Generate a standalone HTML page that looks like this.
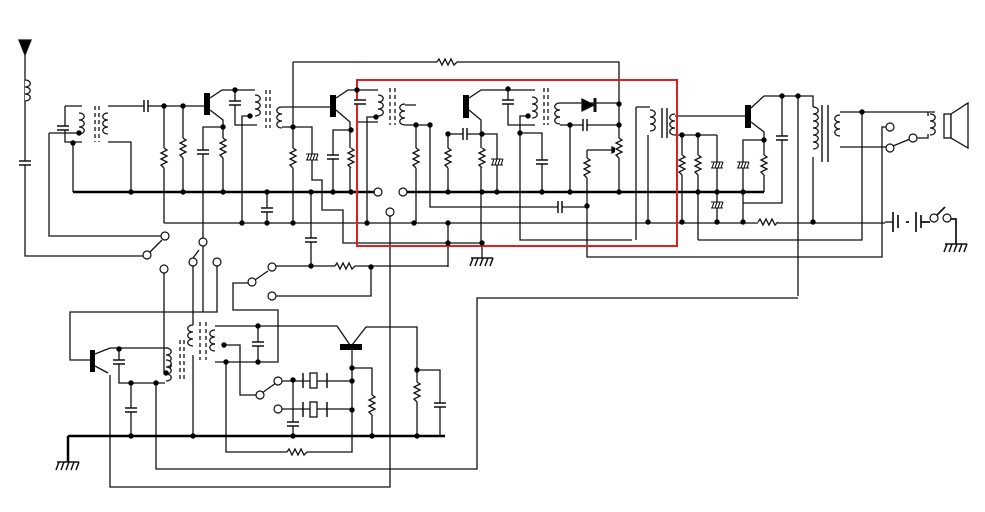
<!DOCTYPE html>
<html><head><meta charset="utf-8"><style>
html,body{margin:0;padding:0;background:#fff}
svg{display:block}
</style></head><body>
<svg width="985" height="512" viewBox="0 0 985 512" xmlns="http://www.w3.org/2000/svg">
<defs>
<g id="r"><rect x="-4" y="-10" width="8" height="20" fill="#fff"/><path d="M0,-10 l3,2 l-6,3 l6,3 l-6,3 l6,3 l-6,3 l3,3" fill="none" stroke="#111" stroke-width="1.3"/></g>
<g id="rh"><rect x="-10" y="-4" width="20" height="8" fill="#fff"/><path d="M-10,0 l2,-3 l3,6 l3,-6 l3,6 l3,-6 l3,6 l3,-3" fill="none" stroke="#111" stroke-width="1.3"/></g>
<g id="cv"><rect x="-6" y="-2" width="12" height="4" fill="#fff"/><path d="M-6,-2 h12 M-6,2 h12" stroke="#111" stroke-width="1.5"/></g>
<g id="ch"><rect x="-2" y="-6" width="4" height="12" fill="#fff"/><path d="M-2,-6 v12 M2,-6 v12" stroke="#111" stroke-width="1.5"/></g>
<g id="cz"><rect x="-6" y="-3" width="12" height="6" fill="#fff"/><path d="M-6,-3 h12 M-6,3 h12 M-3,-3 l-2,6 M0,-3 l-2,6 M3,-3 l-2,6 M6,-3 l-2,6" stroke="#111" stroke-width="1.1"/></g>
<g id="coil"><path d="M0,0 c7,0 7,7 0,7 c7,0 7,7 0,7 c7,0 7,7 0,7" fill="#fff" stroke="#111" stroke-width="1.3"/></g>
<g id="coilL"><path d="M0,0 c-7,0 -7,7 0,7 c-7,0 -7,7 0,7 c-7,0 -7,7 0,7" fill="#fff" stroke="#111" stroke-width="1.3"/></g>
<g id="gnd"><path d="M-11,0 h22 M-9,0 l-3,8 M-4,0 l-3,8 M1,0 l-3,8 M6,0 l-3,8 M11,0 l-3,8" stroke="#111" stroke-width="1.5"/></g>
<g id="d"><circle r="2.7" fill="#000"/></g>
<g id="o"><circle r="4" fill="#fff" stroke="#111" stroke-width="1.2"/></g>
</defs>

<g fill="none" stroke="#111" stroke-width="1.3">
<polygon points="19,40 31,40 25,55" fill="#000"/>
<path d="M25,55 V236 M25,166 V256 H144"/>
<path d="M49,133 H79 M49,133 V236 H161"/>
<path d="M150,252 L162,240"/>
<path d="M65,106 H82 M65,106 V142 H82 M73,142 V192 M108,106 H205 M108,142 H131 V192"/>
<path d="M95,106 V142 M99,106 V142" stroke-dasharray="4,3"/>
<path d="M164,106 V223 M183,106 V192"/>
<path d="M210,98 L222,90 H255 M235,90 V125 H257 M210,110 L223,120 V192 M223,127 H203 V238"/>
<path d="M250,116 H242 V223"/>
<path d="M266,90 V128 M270,90 V128" stroke-dasharray="4,3"/>
<path d="M282,107 H330 M282,127 H312 V180 H322 V210 H343 V243 H482"/>
<path d="M293,62 V223 M293,62 H619 V192"/>
<path d="M311,192 V266 M203,246 V312 M199,250 L193,258"/>
<path d="M267,192 V223"/>
<path d="M336,98 L348,90 H378 M357,90 V122 H378 M336,110 L350,122 V192 M351,130 H333 V192"/>
<path d="M376,117 H367 V223"/>
<path d="M390,88 V125 M395,88 V125" stroke-dasharray="4,3"/>
<path d="M164,223 H885"/>
<path d="M390,216 V487 H110 V375"/>
<path d="M405,105 H416 M405,125 H430 M416,125 V223 M430,125 V207 H586 M448,134 H482 M448,134 V192 M448,223 V267"/>
<path d="M469,98 L481,90 H535 M469,110 L481,120 V243 M482,134 H497 V192 M482,243 V258"/>
<path d="M508,89 V125 H535 M528,116 H520 V240 H632 M520,133 H542 V192"/>
<path d="M544,88 V125 M548,88 V125" stroke-dasharray="4,3"/>
<path d="M560,103 H619 M560,125 H619 M570,125 V192"/>
<path d="M587,150 H612 M587,150 V257 H882 V127 H886"/>
<polygon points="612,147 618,150 612,153" fill="#000"/>
<polygon points="582,99 582,111 594,105" fill="#000"/><path d="M595,98 V112" stroke-width="3"/>
<path d="M636,107 H650 M636,107 V240 M648,135 V222"/>
<path d="M662,108 V138 M667,108 V138" stroke-width="1.4"/>
<path d="M675,116 H749 M675,135 H717 M682,135 V222 M698,135 V240 M717,135 V222"/>
<path d="M751,108 L764,96 H813 V107 M751,122 L764,132 V192 M764,140 H743 V222 M782,96 V203 H743 M798,96 V296 M813,157 V222"/>
<path d="M822,105 V162 M828,105 V162" stroke-width="1.4"/>
<path d="M840,112 H935 M862,112 V240 H698 M840,147 H886 M893,146 L910,139 M917,138 H928 V134 M928,112 V116"/>
<rect x="944" y="114" width="7" height="24" fill="#fff"/>
<polygon points="951,114 968,103 968,148 951,138" fill="#fff"/>
<path d="M893,212 V232 M898,215 V228 M906,222 H909 M916,212 V232 M921,215 V228 M921,222 H930 M936,216 L945,207 M951,219 H956 V244" stroke-width="1.7"/>
<path d="M885,222 H893"/>
<path d="M311,266 H448 M276,266 H311 M252,282 L268,271 M276,296 H371 V267"/>
<path d="M248,283 H233 V310 H278 V362 H258 M217,263 V312 H70 V360 H90"/>
<path d="M164,270 V373 M193,263 V325 M193,355 V436"/>
<path d="M95,354 L110,348 H168 M119,349 V383 H165 M95,366 L108,373 M131,383 V436 M156,383 V469 H477 V298 H798"/>
<path d="M200,322 V360 M206,322 V360 M180,340 V380 M184,340 V380" stroke-dasharray="4,3"/>
<path d="M215,326 H337 L350,345 M215,362 H258 M258,326 V362 M224,345 H240 V395 H256 M226,362 V452 H352 V349"/>
<path d="M352,345 L366,327 H417 V436 M417,370 H440 V436 M352,368 H372 V436"/>
<path d="M262,393 L276,383 M282,381 H352 M282,409 H352 M293,380 V436"/>
<rect x="310" y="373" width="7" height="15" fill="#fff"/>
<rect x="310" y="402" width="7" height="15" fill="#fff"/>
<path d="M303,373 V388 M327,373 V388 M303,402 V417 M327,402 V417" stroke-width="1.5"/>
</g>
<g stroke="#000" stroke-width="2.5" fill="none">
<path d="M73,192 H374 M407,192 H764"/>
<path d="M68,436 H445 M68,436 V462"/>
</g>
<g fill="#000">
<rect x="204" y="93" width="6" height="22"/>
<rect x="330" y="95" width="6" height="22"/>
<rect x="463" y="95" width="6" height="23"/>
<rect x="745" y="105" width="6" height="23"/>
<rect x="90" y="350" width="5" height="22"/>
<rect x="340" y="344" width="22" height="6"/>
</g>
<rect x="357" y="80" width="320" height="166" fill="none" stroke="#e02020" stroke-width="2"/>
<use href="#coil" x="25" y="80"/>
<use href="#coil" x="79" y="113"/>
<use href="#coilL" x="108" y="113"/>
<use href="#coil" x="255" y="95"/>
<use href="#coilL" x="282" y="107"/>
<use href="#coil" x="378" y="95"/>
<use href="#coilL" x="405" y="104"/>
<use href="#coil" x="532" y="97"/>
<use href="#coilL" x="560" y="103"/>
<use href="#coil" x="650" y="110"/>
<use href="#coilL" x="675" y="114"/>
<use href="#coil" x="813" y="107"/><use href="#coil" x="813" y="128"/>
<use href="#coilL" x="840" y="115"/>
<use href="#coil" x="930" y="114"/>
<use href="#coil" x="166" y="348"/><use href="#coil" x="166" y="360"/>
<use href="#coilL" x="193" y="325"/>
<use href="#coilL" x="215" y="330"/>
<use href="#r" x="164" y="158"/><use href="#r" x="183" y="148"/><use href="#r" x="223" y="148"/>
<use href="#r" x="293" y="158"/><use href="#r" x="351" y="158"/>
<use href="#r" x="416" y="158"/><use href="#r" x="448" y="158"/><use href="#r" x="482" y="158"/>
<use href="#r" x="619" y="148"/><use href="#r" x="587" y="168"/>
<use href="#r" x="682" y="165"/><use href="#r" x="698" y="165"/><use href="#r" x="764" y="165"/>
<use href="#r" x="372" y="405"/><use href="#r" x="417" y="392"/>
<use href="#rh" x="447" y="62"/><use href="#rh" x="345" y="266"/><use href="#rh" x="768" y="222"/><use href="#rh" x="297" y="452"/>
<use href="#cv" x="25" y="163"/><use href="#cv" x="63" y="128"/><use href="#ch" x="146" y="106"/>
<use href="#cv" x="203" y="152"/><use href="#cv" x="235" y="103"/><use href="#cv" x="267" y="210"/>
<use href="#cv" x="311" y="240"/><use href="#cv" x="333" y="157"/><use href="#cv" x="360" y="102"/>
<use href="#ch" x="465" y="134"/><use href="#cv" x="508" y="102"/><use href="#cv" x="542" y="162"/>
<use href="#ch" x="560" y="207"/><use href="#ch" x="585" y="125"/><use href="#cv" x="782" y="138"/>
<use href="#cv" x="119" y="362"/><use href="#cv" x="131" y="410"/><use href="#cv" x="258" y="344"/>
<use href="#cv" x="293" y="424"/><use href="#cv" x="440" y="405"/>
<use href="#cz" x="312" y="157"/><use href="#cz" x="497" y="162"/><use href="#cz" x="717" y="165"/>
<use href="#cz" x="717" y="205"/><use href="#cz" x="743" y="165"/>
<use href="#gnd" x="482" y="258"/><use href="#gnd" x="956" y="244"/><use href="#gnd" x="68" y="462"/>
<g>
<use href="#d" x="79" y="133"/><use href="#d" x="73" y="143"/><use href="#d" x="164" y="106"/><use href="#d" x="183" y="106"/>
<use href="#d" x="131" y="192"/><use href="#d" x="183" y="192"/><use href="#d" x="223" y="192"/><use href="#d" x="267" y="192"/>
<use href="#d" x="311" y="192"/><use href="#d" x="333" y="192"/><use href="#d" x="351" y="192"/>
<use href="#d" x="235" y="90"/><use href="#d" x="223" y="127"/><use href="#d" x="250" y="116"/><use href="#d" x="293" y="127"/>
<use href="#d" x="357" y="90"/><use href="#d" x="351" y="130"/><use href="#d" x="376" y="117"/>
<use href="#d" x="242" y="223"/><use href="#d" x="267" y="223"/><use href="#d" x="293" y="223"/><use href="#d" x="367" y="223"/>
<use href="#d" x="414" y="223"/><use href="#d" x="448" y="223"/><use href="#d" x="448" y="243"/><use href="#d" x="482" y="243"/>
<use href="#d" x="311" y="266"/><use href="#d" x="371" y="267"/>
<use href="#d" x="416" y="125"/><use href="#d" x="430" y="125"/><use href="#d" x="448" y="134"/><use href="#d" x="482" y="134"/>
<use href="#d" x="448" y="192"/><use href="#d" x="482" y="192"/><use href="#d" x="497" y="192"/><use href="#d" x="542" y="192"/>
<use href="#d" x="570" y="192"/><use href="#d" x="619" y="192"/><use href="#d" x="508" y="89"/><use href="#d" x="528" y="116"/>
<use href="#d" x="520" y="133"/><use href="#d" x="619" y="104"/><use href="#d" x="619" y="125"/><use href="#d" x="570" y="125"/>
<use href="#d" x="587" y="206"/><use href="#d" x="648" y="222"/><use href="#d" x="682" y="135"/><use href="#d" x="698" y="135"/>
<use href="#d" x="682" y="222"/><use href="#d" x="698" y="192"/><use href="#d" x="717" y="192"/><use href="#d" x="717" y="222"/>
<use href="#d" x="743" y="192"/><use href="#d" x="743" y="222"/><use href="#d" x="764" y="140"/><use href="#d" x="782" y="96"/>
<use href="#d" x="798" y="96"/><use href="#d" x="813" y="222"/><use href="#d" x="862" y="112"/>
<use href="#d" x="119" y="349"/><use href="#d" x="131" y="383"/><use href="#d" x="156" y="383"/><use href="#d" x="166" y="373"/>
<use href="#d" x="131" y="436"/><use href="#d" x="193" y="436"/><use href="#d" x="258" y="326"/><use href="#d" x="258" y="362"/>
<use href="#d" x="224" y="345"/><use href="#d" x="226" y="362"/><use href="#d" x="352" y="368"/><use href="#d" x="352" y="381"/>
<use href="#d" x="352" y="410"/><use href="#d" x="417" y="370"/><use href="#d" x="293" y="380"/><use href="#d" x="293" y="436"/>
<use href="#d" x="372" y="436"/><use href="#d" x="417" y="436"/>
</g>
<use href="#o" x="378" y="192"/><use href="#o" x="403" y="192"/><use href="#o" x="390" y="212"/>
<use href="#o" x="165" y="236"/><use href="#o" x="147" y="255"/><use href="#o" x="203" y="242"/>
<use href="#o" x="193" y="262"/><use href="#o" x="217" y="262"/><use href="#o" x="164" y="269"/>
<use href="#o" x="272" y="267"/><use href="#o" x="252" y="282"/><use href="#o" x="272" y="296"/>
<use href="#o" x="260" y="395"/><use href="#o" x="278" y="381"/><use href="#o" x="278" y="409"/>
<use href="#o" x="890" y="127"/><use href="#o" x="890" y="148"/><use href="#o" x="913" y="138"/>
<use href="#o" x="934" y="218"/><use href="#o" x="947" y="218"/>
</svg>
</body></html>
